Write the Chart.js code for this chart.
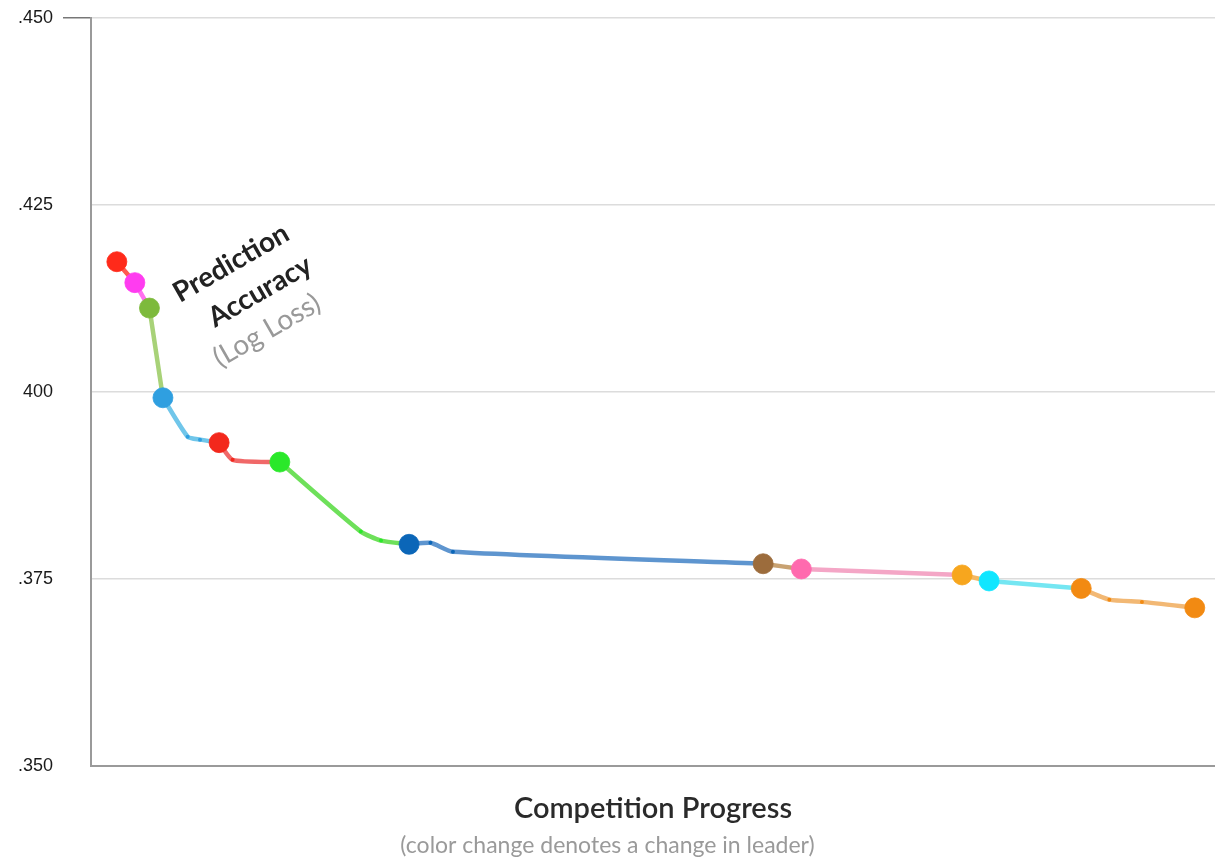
<!DOCTYPE html>
<html>
<head>
<meta charset="utf-8">
<script src="https://cdn.jsdelivr.net/npm/chart.js@4/dist/chart.umd.min.js"></script>
<style>
  body { margin: 0; background: #fff; }
  #wrap { width: 1215px; height: 859px; }
</style>
</head>
<body>
<div id="wrap"><canvas id="myChart" width="1215" height="859"></canvas></div>
<script>
// path of the best score through the competition
const progress = [2.3, 3.9, 5.2, 6.4, 8.6, 9.7, 11.4, 12.6, 16.8, 24.0, 25.8, 28.3, 30.2, 32.2, 59.8, 63.2, 77.5, 79.9, 88.1, 90.6, 93.5, 98.2];
const logLoss = [0.4174, 0.4146, 0.4112, 0.3992, 0.3940, 0.3936, 0.3932, 0.3909, 0.3906, 0.3813, 0.3801, 0.3796, 0.3798, 0.3786, 0.3770, 0.3763, 0.3755, 0.3747, 0.3737, 0.3722, 0.3719, 0.3711];
// index in the path where a new leader takes over
const leaderAt = [0, 1, 2, 3, 6, 8, 11, 14, 15, 16, 17, 18, 21];
const dotColors = ['#ff2a1a', '#ff3cf0', '#7dba3c', '#2f9fe0', '#f3281c', '#2ae82a', '#0b66b8', '#9c6c3c', '#ff6aae', '#f7a61e', '#10e6ff', '#f28a12', '#f28a12'];
const lineColors = ['#ff5a50', '#ff70f0', '#a8d278', '#70c6ea', '#f06868', '#6ee05a', '#5e95cf', '#c8a272', '#f4a6c6', '#f5b860', '#74e6f2', '#f2b874', '#f2b874'];

const yTicks = [0.35, 0.375, 0.40, 0.425, 0.45];
const yTickLabels = ['.350', '.375', '400', '.425', '.450'];

const pts = progress.map((p, i) => ({ x: p, y: logLoss[i] }));

const datasets = [];
// leader dots on top
datasets.push({
  type: 'scatter',
  data: leaderAt.map(i => pts[i]),
  pointRadius: 10,
  pointHoverRadius: 10,
  pointBackgroundColor: dotColors,
  pointBorderColor: dotColors.map(c => c + 'cc'),
  pointBorderWidth: 1,
  order: 0
});
for (let k = 0; k < leaderAt.length - 1; k++) {
  const seg = pts.slice(leaderAt[k], leaderAt[k + 1] + 1);
  datasets.push({
    type: 'line',
    data: seg,
    borderColor: lineColors[k],
    borderWidth: 4.5,
    pointRadius: seg.map((_, j) => (j > 0 && j < seg.length - 1) ? 2 : 0),
    pointBackgroundColor: dotColors[k],
    pointBorderWidth: 0,
    tension: 0.2,
    fill: false,
    order: 1
  });
}

const labelPlugin = {
  id: 'labelText',
  afterDatasetsDraw(chart) {
    const ctx = chart.ctx;
    const a = chart.chartArea;
    const lines = [
      { t: 'Prediction', dx: 89, dy: 285, font: '700 28px Lato', c: '#222' },
      { t: 'Accuracy', dx: 124, dy: 310, font: '700 28px Lato', c: '#222' },
      { t: '(Log Loss)', dx: 129, dy: 350, font: '400 28px Lato', c: '#999' }
    ];
    ctx.save();
    lines.forEach(l => {
      ctx.save();
      ctx.translate(a.left + l.dx, a.top + l.dy);
      ctx.rotate(-30 * Math.PI / 180);
      ctx.font = l.font;
      ctx.fillStyle = l.c;
      ctx.textBaseline = 'alphabetic';
      ctx.fillText(l.t, 0, 0);
      ctx.restore();
    });
    ctx.restore();
  }
};

const config = {
  data: { datasets: datasets },
  options: {
    responsive: false,
    animation: false,
    layout: { autoPadding: false, padding: { top: 18, right: 0, left: 0, bottom: 0 } },
    plugins: {
      legend: { display: false },
      tooltip: { enabled: false },
      subtitle: {
        display: true,
        position: 'bottom',
        text: '(color change denotes a change in leader)',
        color: '#9a9a9a',
        font: { family: 'Lato', size: 23, weight: '400' },
        padding: { top: 0, bottom: 0 }
      }
    },
    scales: {
      x: {
        type: 'linear',
        min: 0,
        max: 100,
        grid: { display: false },
        border: { display: true, color: '#9a9a9a', width: 2 },
        ticks: { display: false },
        title: {
          display: true,
          text: 'Competition Progress',
          color: '#2a2a2a',
          font: { family: 'Lato', size: 29, weight: '600' },
          padding: { top: 18, bottom: 5 }
        }
      },
      y: {
        min: 0.35,
        max: 0.45,
        afterBuildTicks(scale) {
          scale.ticks = yTicks.map(v => ({ value: v }));
        },
        afterFit(scale) {
          scale.width = 91;
          scale.paddingTop = 0;
          scale.paddingBottom = 0;
        },
        ticks: {
          callback: (v) => yTickLabels[yTicks.findIndex(t => Math.abs(t - v) < 1e-6)],
          color: '#1a1a1a',
          font: { family: 'Liberation Sans', size: 18 },
          padding: 10
        },
        grid: {
          color: '#dcdcdc',
          lineWidth: 1.5,
          tickLength: 28,
          tickColor: (c) => c.index === yTicks.length - 1 ? '#777' : 'rgba(0,0,0,0)'
        },
        border: { display: true, color: '#9a9a9a', width: 2 }
      }
    }
  },
  plugins: [labelPlugin]
};

const myChart = new Chart(document.getElementById('myChart').getContext('2d'), config);
</script>
</body>
</html>
